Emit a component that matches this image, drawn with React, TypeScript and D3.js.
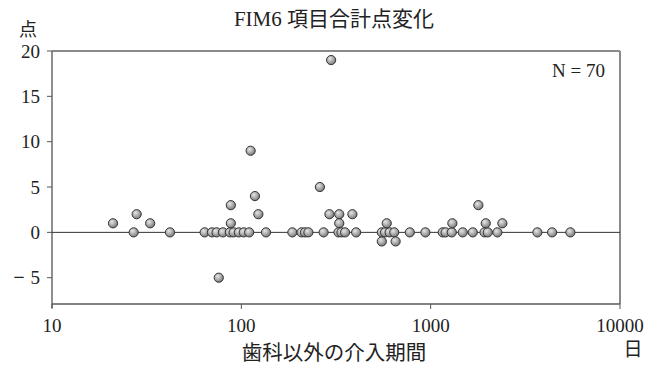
import React from "react";
import * as d3 from "d3";

// Intervention period (days, non-dental) and change in FIM 6-item total score
const days: number[] = [
  21, 28, 27, 33, 42,
  64, 70, 74, 80, 87, 91, 97, 103, 110, 135,
  88, 88, 76, 112, 118, 123,
  186, 208, 217, 226, 272,
  260, 298, 292, 329, 386, 329,
  326, 338, 353, 404,
  552, 574, 607, 642, 586, 552, 653,
  776, 938,
  1158, 1199, 1293, 1477, 1669, 1926, 2002, 2251,
  3662, 4379, 5470,
  1302, 1786, 1954, 2392,
];
const scoreChange: number[] = [
  1, 2, 0, 1, 0,
  0, 0, 0, 0, 0, 0, 0, 0, 0, 0,
  1, 3, -5, 9, 4, 2,
  0, 0, 0, 0, 0,
  5, 19, 2, 2, 2, 1,
  0, 0, 0, 0,
  0, 0, 0, 0, 1, -1, -1,
  0, 0,
  0, 0, 0, 0, 0, 0, 0, 0,
  0, 0, 0,
  1, 3, 1, 1,
];

const xTicks = [10, 100, 1000, 10000];
const yTicks = [20, 15, 10, 5, 0, -5];

const W = 661;
const H = 367;
const left = 52;
const right = 620;
const top = 51;
const bottom = 304;

const serif = "'Liberation Serif', 'Times New Roman', 'Noto Sans CJK JP', serif";

export default function App() {
  const x = d3.scaleLog().domain([10, 10000]).range([left, right]);
  const y = d3.scaleLinear().domain([-7.9, 20]).range([bottom, top]);

  const points = days.map((d, i) => ({ d, v: scoreChange[i] }));

  return (
    <svg
      width={W}
      height={H}
      style={{ position: "absolute", left: 0, top: 0, background: "#fff" }}
      fontFamily={serif}
    >
      <defs>
        <radialGradient id="ball" cx="38%" cy="35%" r="70%">
          <stop offset="0%" stopColor="#e6e6e6" />
          <stop offset="55%" stopColor="#a8a8a8" />
          <stop offset="100%" stopColor="#707070" />
        </radialGradient>
      </defs>

      {/* title */}
      <text x={334} y={26} fontSize={21} textAnchor="middle" fill="#222">
        FIM6 項目合計点変化
      </text>
      <text x={28} y={36} fontSize={18} textAnchor="middle" fill="#222">
        点
      </text>

      {/* frame: top and right */}
      <line x1={left} x2={right} y1={top} y2={top} stroke="#8a8a8a" strokeWidth={2} />
      <line x1={right} x2={right} y1={top} y2={bottom} stroke="#8a8a8a" strokeWidth={2} />

      {/* y axis */}
      <line x1={left} x2={left} y1={top} y2={bottom + 4} stroke="#6a6a6a" strokeWidth={1.5} />
      {yTicks.map((t) => (
        <g key={t}>
          <line x1={left - 5} x2={left} y1={y(t)} y2={y(t)} stroke="#555" strokeWidth={1} />
          <text x={40} y={y(t) + 6.5} fontSize={19} textAnchor="end" fill="#222">
            {Math.abs(t)}
          </text>
          {t < 0 && (
            <text x={19} y={y(t) + 6.5} fontSize={20} fontWeight="bold" textAnchor="middle" fill="#222">
              −
            </text>
          )}
        </g>
      ))}

      {/* x axis */}
      <line x1={left} x2={right} y1={bottom} y2={bottom} stroke="#5a5a5a" strokeWidth={1.5} />
      {xTicks.map((t) => (
        <g key={t}>
          <line x1={x(t)} x2={x(t)} y1={bottom} y2={bottom + 5} stroke="#555" strokeWidth={1} />
          <text x={x(t)} y={332} fontSize={19} textAnchor="middle" fill="#222">
            {t}
          </text>
        </g>
      ))}
      <text x={334} y={360} fontSize={20.5} textAnchor="middle" fill="#222">
        歯科以外の介入期間
      </text>
      <text x={633} y={356} fontSize={19} textAnchor="middle" fill="#222">
        日
      </text>

      {/* zero reference */}
      <line x1={left} x2={right} y1={y(0)} y2={y(0)} stroke="#333" strokeWidth={1} />

      <text x={605} y={77} fontSize={19} textAnchor="end" fill="#222">
        N = 70
      </text>

      {points.map((p, i) => (
        <circle
          key={i}
          cx={x(p.d)}
          cy={y(p.v)}
          r={4.6}
          fill="url(#ball)"
          stroke="#333"
          strokeWidth={1}
        />
      ))}
    </svg>
  );
}
